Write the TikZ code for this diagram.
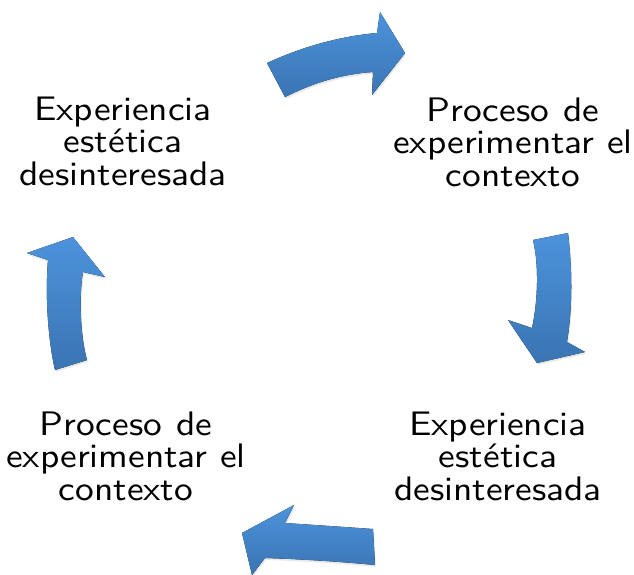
\documentclass[tikz,border=0pt]{standalone}
\usepackage{fontspec}
\setsansfont{lmsans10-regular.otf}[FakeStretch=1.1]
\usetikzlibrary{shadows}
\definecolor{azulclaro}{HTML}{4C93DB}
\definecolor{azuloscuro}{HTML}{3A74B3}
\newcommand{\espacioancho}{\spaceskip=0.42em\relax}

\begin{document}
\begin{tikzpicture}[x=1pt, y=-1pt,
 texto/.style={align=center, font={\fontsize{34}{32.5}\selectfont\sffamily}},
 flecha/.style={top color=azulclaro, bottom color=azuloscuro, draw=none,
  drop shadow={opacity=0.18, shadow xshift=1pt, shadow yshift=-2pt}}]
 \useasboundingbox (0,0) rectangle (634,575);

 \node[texto] (expA) at (123,141) {Experiencia\\estética\\desinteresada};
 \node[texto] (procA) at (513,142) {\espacioancho Proceso de\\experimentar el\\contexto};
 \node[texto] (expB) at (498,456) {Experiencia\\estética\\desinteresada};
 \node[texto] (procB) at (126,456) {\espacioancho Proceso de\\experimentar el\\contexto};

 %flechas del ciclo
 \fill[flecha] (267,63) .. controls (304,46) and (342,36) .. (377,33) -- (380,12) -- (405,53) -- (372,95) -- (373,72) .. controls (343,74) and (315,82) .. (285,97) -- cycle;
 \fill[flecha] (533,240) -- (568,233) .. controls (572,268) and (573,305) .. (567,342) -- (585,352) -- (537,363) -- (508,320) -- (532,328) .. controls (538,300) and (539,265) .. (533,240) -- cycle;
 \fill[flecha] (373,529) -- (375,565) .. controls (345,562) and (300,559) .. (265,558) -- (252,575) -- (242,533) -- (294,505) -- (285,523) .. controls (315,525) and (345,527) .. (373,529) -- cycle;
 \fill[flecha] (55,370) -- (87,360) .. controls (80,335) and (79,295) .. (83,272) -- (105,277) -- (73,237) -- (27,253) -- (48,260) .. controls (45,295) and (48,340) .. (55,370) -- cycle;
\end{tikzpicture}
\end{document}
